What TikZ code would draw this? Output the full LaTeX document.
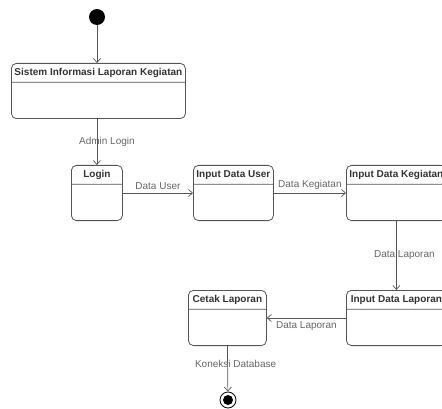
\documentclass[tikz,border=0pt]{standalone}
\usepackage{fontspec}
\setmainfont{Liberation Sans}
\usetikzlibrary{arrows.meta, positioning, shapes.multipart}
\definecolor{linegray}{HTML}{555555}
\definecolor{labelgray}{HTML}{666666}
\definecolor{titlegray}{HTML}{333333}
\newcommand{\boxbody}{\nodepart{two}\rule{0pt}{26pt}}

\begin{document}
\begin{tikzpicture}[
    x=1pt, y=-1pt,
    actbox/.style={rectangle split, rectangle split parts=2, draw=linegray, line width=0.8pt, rounded corners=5pt, align=center, inner xsep=2pt, inner ysep=3pt, font=\bfseries\strut, text=titlegray, anchor=north west},
    lbl/.style={text=labelgray, inner sep=1pt},
    flow/.style={->, draw=linegray, line width=0.7pt},
    >={Straight Barb[length=4pt, width=7pt]}
]

\useasboundingbox (0,0) rectangle (442,409);

% Nodes
\node (start) [circle, fill=black, minimum size=16pt, inner sep=0] at (97,17) {};
\node (sys) [actbox, minimum width=174pt] at (11,63) {Sistem Informasi Laporan Kegiatan\boxbody};
\node (login) [actbox, minimum width=51pt] at (71,165) {Login\boxbody};
\node (idu) [actbox, minimum width=80pt] at (193,165) {Input Data User\boxbody};
\node (idk) [actbox, minimum width=100pt] at (346,165) {Input Data Kegiatan\boxbody};
\node (idl) [actbox, minimum width=100pt] at (346,290) {Input Data Laporan\boxbody};
\node (cetak) [actbox, minimum width=78pt] at (188,290) {Cetak Laporan\boxbody};
\node (finish) [circle, draw=black, line width=0.8pt, minimum size=16pt, inner sep=0,
    path picture={\fill[black] (path picture bounding box.center) circle (5pt);}] at (228,400) {};

% Arrows
\draw[flow] (start) -- (start |- sys.north);
\draw[flow] (login |- sys.south) -- node[lbl, xshift=10pt] {Admin Login} (login.north);
\draw[flow] (login.east) -- node[lbl, above=2pt] {Data User} (idu.west);
\draw[flow] (idu.east) -- node[lbl, above=2pt] {Data Kegiatan} (idk.west);
\draw[flow] (idk.south) -- node[lbl, xshift=8pt] {Data Laporan} (idl.north);
\draw[flow] (idl.west) -- node[lbl, below=2pt] {Data Laporan} (cetak.east);
\draw[flow] (cetak.south) -- node[lbl, pos=0.4, xshift=8pt] {Koneksi Database} (finish);

\end{tikzpicture}
\end{document}
